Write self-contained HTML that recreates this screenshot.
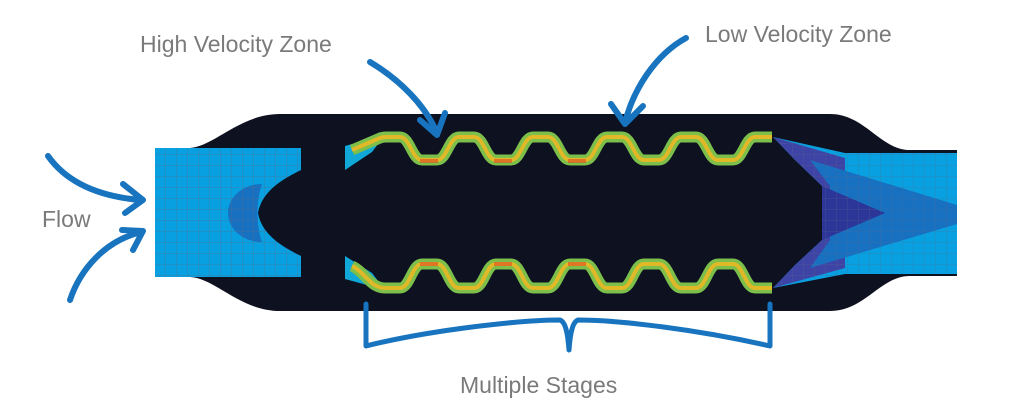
<!DOCTYPE html>
<html><head><meta charset="utf-8"><style>
html,body{margin:0;padding:0;background:#fff;}
svg{display:block;}
text{font-family:"Liberation Sans",sans-serif;fill:#7a7a7a;font-size:23px;}
</style></head><body>
<svg width="1024" height="420" viewBox="0 0 1024 420" xmlns="http://www.w3.org/2000/svg">
<defs>
<pattern id="g" width="11" height="11" patternUnits="userSpaceOnUse">
<path d="M0 0H11M0 0V11" stroke="#5a6a8a" stroke-width="1" fill="none" opacity="0.6"/>
</pattern>
<clipPath id="oc"><path d="M773,137 L845,153 L957,153 L957,274 L845,274 L773,288 L795,265 L822,240 L822,186 L795,160 Z"/></clipPath>
</defs>
<!-- dark body -->
<path d="M155,148 L190,148 C215,146 240,114 280,114 L830,114 C865,114 880,150 910,150 L957,150 L957,276 L910,276 C880,276 865,311 830,311 L280,311 C240,311 215,278 190,277 L155,277 Z" fill="#0d1120"/>
<!-- inlet -->
<path d="M155,148 L301,148 L301,170 C285,178 262,190 258,213 C262,236 285,248 301,256 L301,277 L155,277 Z" fill="#08a0e0"/>
<path d="M262,184 C242,184 228,198 228,213 C228,228 242,242 262,242 C256,226 256,200 262,184Z" fill="#1870c0"/>
<path d="M155,148 L301,148 L301,170 C285,178 262,190 258,213 C262,236 285,248 301,256 L301,277 L155,277 Z" fill="url(#g)"/>
<!-- outlet -->
<g clip-path="url(#oc)">
<rect x="773" y="137" width="184" height="151" fill="#08a0e0"/>
<path d="M773,137 L845,158 L845,268 L773,288 L795,265 L822,240 L822,186 L795,160 Z" fill="#3e44a6"/>
<path d="M810,160 L957,205 L957,224 L810,268 L830,240 L830,186Z" fill="#1870c0"/>
<path d="M822,186 L885,213 L822,240 Z" fill="#2c3598"/>
<rect x="773" y="137" width="184" height="151" fill="url(#g)" opacity="0.7"/>
</g>
<!-- chamber inlet fans -->
<path d="M345,146 L385,135 L372,152 L345,170Z" fill="#10a8d8"/>
<path d="M345,279 L385,290 L372,273 L345,256Z" fill="#10a8d8"/>
<!-- waves -->
<g fill="none" stroke-linejoin="round">
<path d="M352,150 L380,138 C383,137 385,137 386,137 L400,137 C410,137 412,160 422,160 L437,160 C447,160 449,137 459,137 L474,137 C484,137 486,160 496,160 L511,160 C521,160 523,137 533,137 L548,137 C558,137 560,160 570,160 L585,160 C595,160 597,137 607,137 L622,137 C632,137 634,160 644,160 L659,160 C669,160 671,137 681,137 L696,137 C706,137 708,160 718,160 L733,160 C743,160 745,137 755,137 L772,137" stroke="#7cbf4a" stroke-width="11"/>
<path d="M352,150 L380,138 C383,137 385,137 386,137 L400,137 C410,137 412,160 422,160 L437,160 C447,160 449,137 459,137 L474,137 C484,137 486,160 496,160 L511,160 C521,160 523,137 533,137 L548,137 C558,137 560,160 570,160 L585,160 C595,160 597,137 607,137 L622,137 C632,137 634,160 644,160 L659,160 C669,160 671,137 681,137 L696,137 C706,137 708,160 718,160 L733,160 C743,160 745,137 755,137 L772,137" stroke="#e0b828" stroke-width="4"/>
<path d="M352,266 C365,272 370,288 385,288 L400,288 C410,288 412,264 422,264 L437,264 C447,264 449,288 459,288 L474,288 C484,288 486,264 496,264 L511,264 C521,264 523,288 533,288 L548,288 C558,288 560,264 570,264 L585,264 C595,264 597,288 607,288 L622,288 C632,288 634,264 644,264 L659,264 C669,264 671,288 681,288 L696,288 C706,288 708,264 718,264 L733,264 C743,264 745,288 755,288 L772,288" stroke="#7cbf4a" stroke-width="11"/>
<path d="M352,266 C365,272 370,288 385,288 L400,288 C410,288 412,264 422,264 L437,264 C447,264 449,288 459,288 L474,288 C484,288 486,264 496,264 L511,264 C521,264 523,288 533,288 L548,288 C558,288 560,264 570,264 L585,264 C595,264 597,288 607,288 L622,288 C632,288 634,264 644,264 L659,264 C669,264 671,288 681,288 L696,288 C706,288 708,264 718,264 L733,264 C743,264 745,288 755,288 L772,288" stroke="#e0b828" stroke-width="4"/>
</g>
<g fill="#e04a20" opacity="0.6">
<rect x="420" y="159" width="18" height="4"/><rect x="494" y="159" width="18" height="4"/><rect x="568" y="159" width="18" height="4"/>
<rect x="420" y="262" width="18" height="4"/><rect x="494" y="262" width="18" height="4"/><rect x="568" y="262" width="18" height="4"/>
</g>
<!-- annotations -->
<g fill="none" stroke="#1874bf" stroke-width="6" stroke-linecap="round" stroke-linejoin="round">
<path d="M370,62 C400,80 425,105 437,133"/>
<path d="M420,120 L437,135 L445,113"/>
<path d="M686,38 C655,55 633,90 625,123"/>
<path d="M611,104 L625,124 L643,106"/>
<path d="M48,156 C65,180 95,196 140,200"/>
<path d="M123,184 L143,200 L125,213"/>
<path d="M70,300 C80,270 105,240 142,232"/>
<path d="M122,230 L143,231 L133,250"/>
<path d="M366,304 L366,346 C430,330 520,320 560,320 C566,322 568,336 569,350 C570,336 572,322 578,320 C620,320 700,330 770,346 L770,304" stroke-width="5"/>
</g>
<text x="140" y="52">High Velocity Zone</text>
<text x="705" y="42">Low Velocity Zone</text>
<text x="42" y="227">Flow</text>
<text x="460" y="393">Multiple Stages</text>
</svg>
</body></html>
